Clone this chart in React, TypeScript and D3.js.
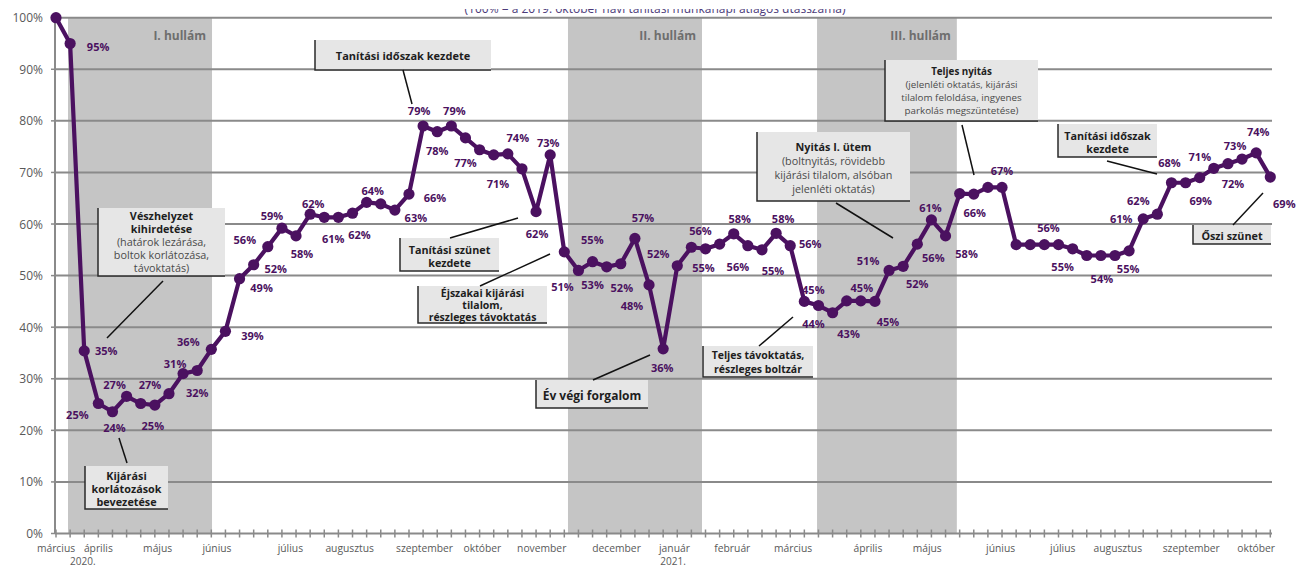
import React from "react";
import * as d3 from "d3";

// ---- DATA ----
// weekly traffic index (% of 2019 reference), March 2020 – October 2021
const weeklyValues: number[] = [
  100, 95, 35.4, 25.2, 23.6, 26.6, 25.2, 24.9, 27.1, 31.0,
  31.6, 35.7, 39.2, 49.4, 52.1, 55.6, 59.2, 57.7, 61.9, 61.3,
  61.3, 62.1, 64.2, 63.9, 62.7, 65.8, 79.0, 77.9, 79.0, 76.7,
  74.4, 73.4, 73.6, 70.7, 62.4, 73.4, 54.6, 51.0, 52.7, 51.7,
  52.3, 57.2, 48.2, 35.8, 51.9, 55.5, 55.2, 56.1, 58.1, 55.8,
  55.0, 58.2, 55.8, 45.0, 44.2, 42.8, 45.1, 45.1, 45.0, 51.0,
  51.8, 56.1, 60.8, 57.7, 65.9, 65.8, 67.1, 67.1, 56.0, 56.0,
  56.0, 56.0, 55.2, 53.9, 53.9, 53.9, 54.8, 61.0, 61.9, 68.0,
  68.0, 69.0, 70.8, 71.7, 72.6, 73.8, 69.1,
];

// month labels and the (fractional) week index they sit under
const monthNames: string[] = [
  "március", "április", "május", "június", "július", "augusztus", "szeptember",
  "október", "november", "december", "január", "február", "március", "április",
  "május", "június", "július", "augusztus", "szeptember", "október",
];
const monthWeek: number[] = [
  0, 3.0, 7.2, 11.4, 16.6, 20.8, 26.1, 30.2, 34.4, 39.7, 43.8, 47.9, 52.2,
  57.5, 61.7, 66.9, 71.3, 75.2, 80.4, 85.0,
];
const yearNames: string[] = ["2020.", "2021."];
const yearWeek: number[] = [1.9, 43.7];

// y ticks
const yTicks: number[] = [0, 10, 20, 30, 40, 50, 60, 70, 80, 90, 100];

// pandemic waves (week index span)
const waveNames: string[] = ["I. hullám", "II. hullám", "III. hullám"];
const waveStart: number[] = [0.85, 36.26, 53.9];
const waveEnd: number[] = [11.05, 45.75, 63.8];

// ---- LAYOUT ----
const W = 1296;
const H = 567;
const FONT = "'Open Sans', 'Noto Sans', sans-serif";
const PURPLE = "#4b1160";

// data label placement: [week index, dx, dy]
const labelPlacement: [number, number, number][] = [
  [1, 28, 3], [2, 22, 0], [3, -21, 11], [4, 2, 16], [5, -12, -12], [7, -2, 20],
  [8, -19, -9], [9, -8, -10], [10, 0, 22], [11, -23, -8], [12, 27, 4],
  [13, 22, 9], [14, 22, 4], [15, -23, -7], [16, -10, -13], [17, 6, 18],
  [18, 3, -11], [19, 9, 21], [21, 7, 21], [22, 6, -12], [24, 21, 7],
  [25, 26, 3], [26, -4, -16], [27, 0, 19], [28, 3, -16], [29, 0, 25],
  [32, 10, -16], [33, -24, 15], [34, 1, 22], [35, -2, -12], [36, 28, -12],
  [37, -16, 16], [38, 0, 23], [40, 1, 24], [41, 8, -21], [42, -17, 21],
  [43, -1, 19], [44, -19, -12], [45, 9, -17], [46, -2, 19], [48, 6, -15],
  [49, -10, 21], [50, 11, 21], [51, 7, -15], [52, 20, -2], [53, 9, -12],
  [54, -5, 18], [55, 16, 21], [57, 1, -13], [58, 13, 20], [59, -21, -10],
  [60, 14, 17], [61, 16, 13], [62, -1, -12], [63, 21, 18], [65, 1, 18],
  [67, 0, -17], [70, 4, -17], [72, -10, 18], [74, 1, 23], [76, -1, 18],
  [77, -22, 0], [78, -19, -14], [79, -2, -20], [81, 1, 23], [82, -14, -12],
  [83, 5, 20], [84, -7, -14], [85, 2, -21], [86, 14, 26],
];

type Note = {
  lines: [string, boolean][];
  box: [number, number, number, number];
  first: number;
  step: number;
  size: number;
  leader: [number, number, number, number];
};

const notes: Note[] = [
  {
    lines: [["Vészhelyzet", true], ["kihirdetése", true], ["(határok lezárása,", false], ["boltok korlátozása,", false], ["távoktatás)", false]],
    box: [98, 208, 225, 276], first: 215, step: 13, size: 10.8, leader: [163, 281, 107, 338],
  },
  {
    lines: [["Kijárási", true], ["korlátozások", true], ["bevezetése", true]],
    box: [85, 466, 168, 509], first: 475, step: 13, size: 10.8, leader: [119, 438, 127, 463],
  },
  {
    lines: [["Tanítási időszak kezdete", true]],
    box: [315, 40, 491, 70], first: 55, step: 13, size: 11, leader: [403, 70, 412, 104],
  },
  {
    lines: [["Tanítási szünet", true], ["kezdete", true]],
    box: [400, 238, 499, 271], first: 249, step: 13, size: 10.8, leader: [450, 238, 518, 218],
  },
  {
    lines: [["Éjszakai kijárási", true], ["tilalom,", true], ["részleges távoktatás", true]],
    box: [418, 286, 547, 323], first: 293, step: 12, size: 10.5, leader: [480, 286, 550, 254],
  },
  {
    lines: [["Év végi forgalom", true]],
    box: [536, 380, 648, 408], first: 395, step: 13, size: 12, leader: [593, 380, 650, 355],
  },
  {
    lines: [["Teljes távoktatás,", true], ["részleges boltzár", true]],
    box: [703, 346, 813, 377], first: 355, step: 14, size: 10.5, leader: [759, 346, 793, 317],
  },
  {
    lines: [["Nyitás I. ütem", true], ["(boltnyitás, rövidebb", false], ["kijárási tilalom, alsóban", false], ["jelenléti oktatás)", false]],
    box: [757, 132, 910, 201], first: 146, step: 14, size: 10.8, leader: [836, 203, 893, 238],
  },
  {
    lines: [["Teljes nyitás", true], ["(jelenléti oktatás, kijárási", false], ["tilalom feloldása, ingyenes", false], ["parkolás megszüntetése)", false]],
    box: [885, 60, 1038, 121], first: 71, step: 13.3, size: 9.8, leader: [962, 125, 974, 175],
  },
  {
    lines: [["Tanítási időszak", true], ["kezdete", true]],
    box: [1058, 124, 1157, 157], first: 135, step: 13, size: 10.8, leader: [1107, 161, 1157, 174],
  },
  {
    lines: [["Őszi szünet", true]],
    box: [1193, 225, 1271, 244], first: 235, step: 13, size: 10.8, leader: [1233, 225, 1263, 193],
  },
];

export default function App() {
  const x = d3.scaleLinear().domain([0, weeklyValues.length - 1]).range([56, 1270.3]);
  const y = d3.scaleLinear().domain([0, 100]).range([533.5, 17.7]);
  const x0 = 55;
  const x1 = 1272;
  const line = d3
    .line<number>()
    .x((_, i) => x(i))
    .y((d) => y(d));

  return (
    <svg
      width={W}
      height={H}
      viewBox={`0 0 ${W} ${H}`}
      style={{ position: "absolute", left: 0, top: 0, background: "#fff" }}
      fontFamily={FONT}
    >
      <defs>
        <clipPath id="topclip">
          <rect x={0} y={9} width={W} height={20} />
        </clipPath>
      </defs>
      <rect x={0} y={0} width={W} height={H} fill="#fff" />

      {/* subtitle, cut at the top edge as in the source */}
      <g clipPath="url(#topclip)">
        <text x={655} y={12.5} textAnchor="middle" fontSize={12} fill="#4b3a7a">
          (100% = a 2019. október havi tanítási munkanapi átlagos utasszáma)
        </text>
      </g>

      {/* wave bands */}
      {waveNames.map((n, k) => (
        <g key={n}>
          <rect
            x={x(waveStart[k])}
            y={y(100)}
            width={x(waveEnd[k]) - x(waveStart[k])}
            height={y(0) - y(100)}
            fill="#c5c5c5"
          />
          <text
            x={x(waveEnd[k]) - 6}
            y={35}
            textAnchor="end"
            dominantBaseline="central"
            fontSize={12}
            fontWeight="bold"
            fill="#6e6e6e"
          >
            {n}
          </text>
        </g>
      ))}

      {/* gridlines */}
      {yTicks.map((t) => (
        <g key={t}>
          <line x1={x0} x2={x1} y1={y(t)} y2={y(t)} stroke="#8a8a8a" strokeWidth={2} />
          <line x1={x0 - 4} x2={x0} y1={y(t)} y2={y(t)} stroke="#8a8a8a" strokeWidth={1.5} />
          <text x={43} y={y(t)} textAnchor="end" dominantBaseline="central" fontSize={12} fill="#595959">
            {t}%
          </text>
        </g>
      ))}
      <line x1={x0} x2={x0} y1={y(100)} y2={y(0)} stroke="#8a8a8a" strokeWidth={2} />

      {/* x ticks */}
      {weeklyValues.map((_, i) => (
        <line key={i} x1={x(i)} x2={x(i)} y1={y(0) - 4} y2={y(0) + 4} stroke="#8a8a8a" strokeWidth={1.5} />
      ))}
      {monthNames.map((m, k) => (
        <text key={k} x={x(monthWeek[k])} y={547.5} textAnchor="middle" dominantBaseline="central" fontSize={10.3} fill="#595959">
          {m}
        </text>
      ))}
      {yearNames.map((m, k) => (
        <text key={m} x={x(yearWeek[k])} y={561} textAnchor="middle" dominantBaseline="central" fontSize={10} fill="#595959">
          {m}
        </text>
      ))}

      {/* annotations */}
      {notes.map((n, k) => {
        const [bx0, by0, bx1, by1] = n.box;
        const cx = (bx0 + bx1) / 2;
        return (
          <g key={k}>
            <rect x={bx0} y={by0} width={bx1 - bx0} height={by1 - by0} fill="#e6e6e6" />
            <path d={`M${bx0},${by0}V${by1}H${bx1}`} fill="none" stroke="#2a2a2a" strokeWidth={1.5} />
            {n.lines.map(([t, b], j) => (
              <text
                key={j}
                x={cx}
                y={n.first + j * n.step}
                textAnchor="middle"
                dominantBaseline="central"
                fontSize={n.size}
                fontWeight={b ? "bold" : "normal"}
                fill={b ? "#1e1e1e" : "#4a4a4a"}
              >
                {t}
              </text>
            ))}
            <line x1={n.leader[0]} y1={n.leader[1]} x2={n.leader[2]} y2={n.leader[3]} stroke="#111" strokeWidth={1.5} />
          </g>
        );
      })}

      {/* series */}
      <path d={line(weeklyValues) || ""} fill="none" stroke={PURPLE} strokeWidth={4.2} strokeLinejoin="round" />
      {weeklyValues.map((v, i) => (
        <circle key={i} cx={x(i)} cy={y(v)} r={5.6} fill={PURPLE} />
      ))}
      {labelPlacement.map(([i, dx, dy]) => (
        <text
          key={i}
          x={x(i) + dx}
          y={y(weeklyValues[i]) + dy}
          textAnchor="middle"
          dominantBaseline="central"
          fontSize={11}
          fontWeight="bold"
          fill={PURPLE}
        >
          {Math.round(weeklyValues[i])}%
        </text>
      ))}
    </svg>
  );
}
